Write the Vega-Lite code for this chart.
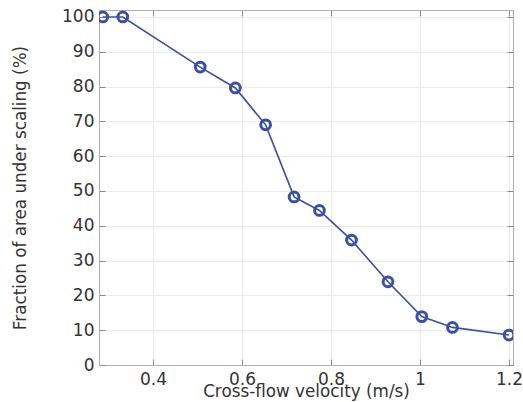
{
  "$schema": "https://vega.github.io/schema/vega-lite/v6.json",
  "width": 414,
  "height": 355,
  "autosize": {"type": "none"},
  "padding": {"left": 99, "top": 10, "right": 10, "bottom": 37},
  "background": "white",
  "config": {
    "font": "DejaVu Sans",
    "view": {"stroke": "#b0b0b0", "strokeWidth": 1},
    "axis": {
      "labelFont": "DejaVu Sans",
      "titleFont": "DejaVu Sans",
      "labelFontSize": 17,
      "titleFontSize": 16.8,
      "titleFontWeight": "normal",
      "labelColor": "#333333",
      "titleColor": "#333333",
      "domainColor": "#b0b0b0",
      "tickColor": "#888888",
      "gridColor": "#ebebeb",
      "tickSize": -6,
      "labelOverlap": false
    }
  },
  "data": {
    "values": [
      {"v": 0.287, "f": 100},
      {"v": 0.332, "f": 100},
      {"v": 0.506, "f": 85.6},
      {"v": 0.585, "f": 79.6},
      {"v": 0.653, "f": 69.0},
      {"v": 0.717, "f": 48.3},
      {"v": 0.774, "f": 44.4},
      {"v": 0.846, "f": 35.9},
      {"v": 0.928, "f": 23.9},
      {"v": 1.004, "f": 13.9},
      {"v": 1.073, "f": 10.8},
      {"v": 1.2, "f": 8.6}
    ]
  },
  "resolve": {"axis": {"x": "independent", "y": "independent"}},
  "layer": [
    {
      "mark": {"type": "line", "color": "#3a4fa6", "strokeWidth": 1.6, "clip": true},
      "encoding": {
        "x": {"field": "v", "type": "quantitative", "scale": {"domain": [0.2785, 1.209], "nice": false, "zero": false},
          "axis": {"title": "Cross-flow velocity (m/s)", "values": [0.4, 0.6, 0.8, 1, 1.2], "labelPadding": 12, "titlePadding": -4, "format": "~g", "labelOverlap": false}},
        "y": {"field": "f", "type": "quantitative", "scale": {"domain": [0, 102], "nice": false},
          "axis": {"title": "Fraction of area under scaling (%)", "values": [0,10,20,30,40,50,60,70,80,90,100], "labelPadding": 11, "titlePadding": 32, "labelOverlap": false}}
      }
    },
    {
      "mark": {"type": "point", "shape": "circle", "filled": false, "color": "#3a4fa6", "strokeWidth": 3, "size": 95, "opacity": 1, "clip": true},
      "encoding": {
        "x": {"field": "v", "type": "quantitative", "axis": {"orient": "top", "title": null, "labels": false, "grid": false, "values": [0.4, 0.6, 0.8, 1, 1.2]}},
        "y": {"field": "f", "type": "quantitative", "axis": {"orient": "right", "title": null, "labels": false, "grid": false, "values": [0,10,20,30,40,50,60,70,80,90,100]}}
      }
    }
  ]
}
